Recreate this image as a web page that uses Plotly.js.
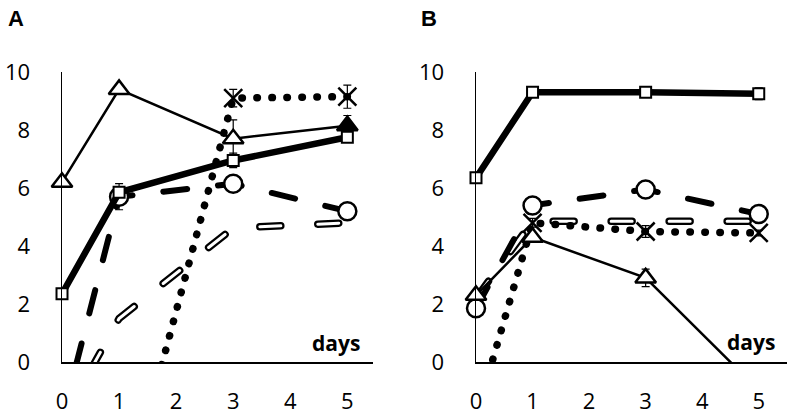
<!DOCTYPE html>
<html><head><meta charset="utf-8">
<script src="https://cdn.plot.ly/plotly-3.0.1.min.js"></script>
<style>
html,body{margin:0;padding:0;background:#fff;}
#chart{width:794px;height:415px;}
#chart path.js-line{stroke-linecap:round;}
</style></head><body><div id="chart"></div>
<script>
// ---- data ----
const days = [0, 1, 3, 5];
const daysDotA = [1, 3, 5];
const tickDays = [0, 1, 2, 3, 4, 5];
const tickDayLabels = ['0', '1', '2', '3', '4', '5'];
const tickVals = [0, 2, 4, 6, 8, 10];
const tickLabels = ['0', '2', '4', '6', '8', '10'];

// Panel A
const aTriangle = [6.2, 9.4, 7.7, 8.15];
const aTriangleErr = [0.1, 0.1, 0.65, 0.35];
const aSquare = [2.35, 5.85, 6.95, 7.75];
const aSquareErr = [0.1, 0.15, 0.25, 0.15];
const aCircle = [-2.0, 5.7, 6.15, 5.2];
const aCircleErr = [null, 0.45, 0.1, 0.15];
const aCross = [-5.6, 9.1, 9.15];
const aCrossErr = [null, 0.3, 0.4];
const aHollow = [-2.05, 1.5, 4.62, 4.8];

// Panel B
const bSquare = [6.35, 9.3, 9.3, 9.25];
const bSquareErr = [0.1, 0.1, 0.1, 0.2];
const bCircle = [1.85, 5.4, 5.95, 5.1];
const bCircleErr = [0.1, 0.1, 0.1, 0.15];
const bHollow = [2.2, 4.85, 4.85, 4.85];
const bCross = [-1.9, 4.8, 4.5, 4.45];
const bCrossErr = [null, 0.15, 0.2, 0.1];
const bTriangle = [2.3, 4.3, 2.9, -0.97];
const bTriangleErr = [0.1, 0.1, 0.3, null];

// ---- styling helpers ----
const K = '#000';
const sizes = (ys, s) => ys.map(v => (v < 0 ? 0 : s));
const err = arr => ({type: 'data', array: arr, visible: true, color: K, thickness: 1.2, width: 4});

function panel(xa, ya, d) {
  const t = [];
  t.push({x: d.hx, y: d.hollow, xaxis: xa, yaxis: ya, mode: 'lines',
    line: {color: K, width: 7.5, dash: '21px,37px'}, hoverinfo: 'skip'});
  t.push({x: d.hx, y: d.hollow, xaxis: xa, yaxis: ya, mode: 'lines',
    line: {color: '#fff', width: 3, dash: '21px,37px'}, hoverinfo: 'skip'});
  t.push({x: d.cx, y: d.circle, xaxis: xa, yaxis: ya, mode: 'lines+markers', cliponaxis: false,
    line: {color: K, width: 6, dash: '24px,31px'},
    marker: {symbol: 'circle', size: sizes(d.circle, 18), opacity: 1, color: '#fff', line: {color: K, width: 2.5}},
    error_y: err(d.circleErr)});
  t.push({x: d.xx, y: d.cross, xaxis: xa, yaxis: ya, mode: 'lines+markers', cliponaxis: false,
    line: {color: K, width: 7.5, dash: '0.5px,14.5px'},
    marker: {symbol: 'x-thin-open', size: sizes(d.cross, 18), opacity: 1, color: K, line: {color: K, width: 2.5}},
    error_y: err(d.crossErr)});
  t.push({x: d.tx, y: d.tri, xaxis: xa, yaxis: ya, mode: 'lines+markers', cliponaxis: false,
    line: {color: K, width: 2.5},
    marker: {symbol: 'triangle-up', size: sizes(d.tri, 18), opacity: 1, color: d.triFill, line: {color: K, width: 2.5}},
    error_y: err(d.triErr)});
  t.push({x: d.sx, y: d.square, xaxis: xa, yaxis: ya, mode: 'lines+markers', cliponaxis: false,
    line: {color: K, width: 6.5},
    marker: {symbol: 'square', size: sizes(d.square, 11), opacity: 1, color: '#fff', line: {color: K, width: 2}},
    error_y: err(d.squareErr)});
  return t;
}

const traces = [].concat(
  panel('x', 'y', {hx: days, hollow: aHollow, cx: days, circle: aCircle, circleErr: aCircleErr,
    xx: daysDotA, cross: aCross, crossErr: aCrossErr, tx: days, tri: aTriangle, triErr: aTriangleErr,
    triFill: ['#fff', '#fff', '#fff', K], sx: days, square: aSquare, squareErr: aSquareErr}),
  panel('x2', 'y2', {hx: days, hollow: bHollow, cx: days, circle: bCircle, circleErr: bCircleErr,
    xx: days, cross: bCross, crossErr: bCrossErr, tx: days, tri: bTriangle, triErr: bTriangleErr,
    triFill: '#fff', sx: days, square: bSquare, squareErr: bSquareErr})
);

const tickFont = {family: 'Open Sans, sans-serif', size: 22, color: K};
function xaxis(domain, range, anchor) {
  return {domain, range, anchor, showline: true, linecolor: K, linewidth: 1.5, showgrid: false,
    zeroline: false, ticks: '', tickmode: 'array', tickvals: tickDays, ticktext: tickDayLabels,
    tickfont: tickFont, ticklabelstandoff: 19, fixedrange: true};
}
function yaxis(anchor) {
  return {domain: [0.1277, 0.8265], range: [0, 10], anchor, showline: true, linecolor: K, linewidth: 1.5,
    showgrid: false, zeroline: false, ticks: '', tickmode: 'array', tickvals: tickVals, ticktext: tickLabels,
    tickfont: tickFont, ticklabelstandoff: 26, fixedrange: true};
}

const layout = {
  width: 794, height: 415, margin: {l: 0, r: 0, t: 0, b: 0},
  paper_bgcolor: '#fff', plot_bgcolor: '#fff', showlegend: false,
  xaxis: xaxis([0.0781, 0.4698], [0, 5.45], 'y'),
  yaxis: yaxis('x'),
  xaxis2: xaxis([0.5995, 0.9912], [0, 5.5], 'y2'),
  yaxis2: yaxis('x2'),
  annotations: [
    {text: '<b>A</b>', xref: 'paper', yref: 'paper', x: 0.02, y: 0.9566, xanchor: 'center', yanchor: 'middle',
      showarrow: false, font: {family: 'Liberation Sans, Arial, sans-serif', size: 22, color: K}},
    {text: '<b>B</b>', xref: 'paper', yref: 'paper', x: 0.5403, y: 0.9566, xanchor: 'center', yanchor: 'middle',
      showarrow: false, font: {family: 'Liberation Sans, Arial, sans-serif', size: 22, color: K}},
    {text: '<b>days</b>', xref: 'x', yref: 'y', x: 4.8, y: 0.66, xanchor: 'center', yanchor: 'middle',
      showarrow: false, font: {family: 'Open Sans, sans-serif', size: 21, color: K}},
    {text: '<b>days</b>', xref: 'x2', yref: 'y2', x: 4.87, y: 0.68, xanchor: 'center', yanchor: 'middle',
      showarrow: false, font: {family: 'Open Sans, sans-serif', size: 21, color: K}}
  ]
};

Plotly.newPlot('chart', traces, layout, {staticPlot: true, displayModeBar: false});
</script></body></html>
